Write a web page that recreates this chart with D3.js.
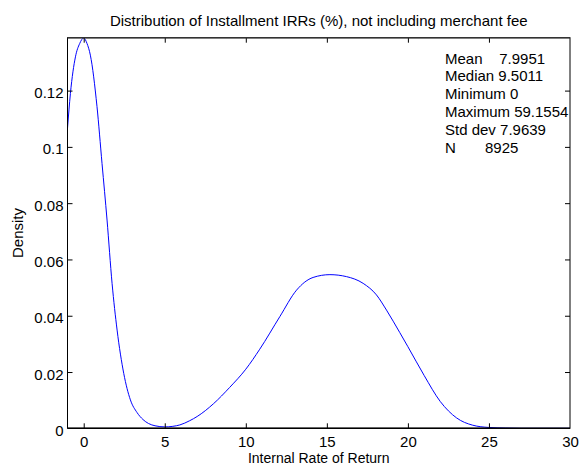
<!DOCTYPE html>
<html>
<head>
<meta charset="utf-8">
<script src="https://cdn.jsdelivr.net/npm/d3@7"></script>
<style>
  html, body { margin: 0; padding: 0; background: #fff; }
  svg { display: block; font-family: "Liberation Sans", Arial, Helvetica, sans-serif; }
  text { white-space: pre; }
</style>
</head>
<body>
<svg id="chart" width="579" height="466"></svg>
<script>
// ---- data ----
const irrValues = [-1, -0.82, -0.51, -0.25, 0, 0.2, 0.41, 0.82, 1.13, 1.44, 1.75, 2.06, 2.47, 2.88, 3.29, 3.66, 4.0, 4.4, 5, 5.5, 5.93, 6.54, 7, 8, 9, 10, 10.86, 12.1, 13.13, 14.15, 15.19, 16.21, 17.24, 18.06, 18.68, 19.5, 20, 21, 22, 23, 24, 25, 26, 27, 28, 29, 30];
const densityValues = [0.1066, 0.119, 0.132, 0.1367, 0.1387, 0.1368, 0.1326, 0.1143, 0.0941, 0.074, 0.0515, 0.0349, 0.0195, 0.0101, 0.0056, 0.0031, 0.0017, 0.0009, 0.0005, 0.0007, 0.0012, 0.0027, 0.0042, 0.0087, 0.0145, 0.021, 0.0281, 0.0397, 0.0491, 0.0536, 0.0546, 0.0539, 0.0515, 0.0474, 0.042, 0.034, 0.029, 0.0188, 0.0095, 0.0037, 0.0011, 0.0003, 0.0001, 0, 0, 0, 0];
const xTicks = [0, 5, 10, 15, 20, 25, 30];
const yTicks = [0, 0.02, 0.04, 0.06, 0.08, 0.1, 0.12];
const yTickLabels = ["0", "0.02", "0.04", "0.06", "0.08", "0.1", "0.12"];
const statLines = ["Mean    7.9951", "Median 9.5011", "Minimum 0", "Maximum 59.1554", "Std dev 7.9639", "N       8925"];
const titleText = "Distribution of Installment IRRs (%), not including merchant fee";
const xLabel = "Internal Rate of Return";
const yLabel = "Density";

// ---- layout ----
const svg = d3.select("#chart");
const L = 67.5, R = 570, T = 37.7, B = 428.3;
const fs = 15;

const x = d3.scaleLinear().domain([-1, 30]).range([L, R]);
const y = d3.scaleLinear().domain([0, 0.1388]).range([B, T]);

const data = irrValues.map((v, i) => ({ v, d: densityValues[i] }));

// clip
svg.append("clipPath").attr("id", "clip")
  .append("rect").attr("x", L).attr("y", T - 1).attr("width", R - L).attr("height", B - T + 1);

// curve
const line = d3.line().x(p => x(p.v)).y(p => y(p.d)).curve(d3.curveMonotoneX);
svg.append("path").datum(data)
  .attr("clip-path", "url(#clip)")
  .attr("d", line)
  .attr("fill", "none")
  .attr("stroke", "#0000ff")
  .attr("stroke-width", 1);

// axes (ticks inward, all four sides)
const tl = 5;
const gB = svg.append("g").attr("transform", `translate(0,${B})`)
  .call(d3.axisBottom(x).tickValues(xTicks).tickSize(-tl).tickPadding(12).tickFormat(d3.format("d")));
const gT = svg.append("g").attr("transform", `translate(0,${T})`)
  .call(d3.axisTop(x).tickValues(xTicks).tickSize(-tl).tickFormat(""));
const gL = svg.append("g").attr("transform", `translate(${L},0)`)
  .call(d3.axisLeft(y).tickValues(yTicks).tickSize(-tl).tickPadding(9).tickFormat((d, i) => yTickLabels[i]));
const gR = svg.append("g").attr("transform", `translate(${R},0)`)
  .call(d3.axisRight(y).tickValues(yTicks).tickSize(-tl).tickFormat(""));

[gB, gT, gL, gR].forEach(g => {
  g.select(".domain").remove();
  g.selectAll(".tick line").attr("stroke", "#000").attr("stroke-width", 1);
  g.selectAll("text").attr("font-size", fs).attr("font-family", "Liberation Sans, Arial, sans-serif").attr("fill", "#000");
});
gB.selectAll(".tick text").attr("dy", null).attr("y", 447 - B).attr("dominant-baseline", "auto");
gL.selectAll(".tick text").attr("dy", null).attr("y", 7).attr("x", -4);
// hide tick marks that coincide with the frame
gL.selectAll(".tick").filter(d => d === 0).select("line").remove();
gR.selectAll(".tick").filter(d => d === 0).select("line").remove();
gB.selectAll(".tick").filter(d => d === 30).select("line").remove();
gT.selectAll(".tick").filter(d => d === 30).select("line").remove();

// frame
svg.append("rect").attr("x", L).attr("y", T).attr("width", R - L).attr("height", B - T)
  .attr("fill", "none").attr("stroke", "#000").attr("stroke-width", 1);
svg.append("line").attr("x1", L).attr("x2", R).attr("y1", B).attr("y2", B).attr("stroke", "#000").attr("stroke-width", 1.5);
svg.append("line").attr("x1", L).attr("x2", R).attr("y1", T).attr("y2", T).attr("stroke", "#333").attr("stroke-width", 1.5);

// title & labels
svg.append("text").attr("x", (L + R) / 2).attr("y", 26).attr("text-anchor", "middle")
  .attr("font-size", fs).text(titleText);
svg.append("text").attr("x", (L + R) / 2).attr("y", 463).attr("text-anchor", "middle")
  .attr("font-size", 14).text(xLabel);
svg.append("text").attr("transform", `translate(23,${(T + B) / 2}) rotate(-90)`).attr("text-anchor", "middle")
  .attr("font-size", fs).text(yLabel);

// statistics box text
svg.append("g").selectAll("text").data(statLines).join("text")
  .attr("x", 445).attr("y", (d, i) => 63.5 + i * 17.9)
  .attr("font-size", fs).text(d => d);
</script>
</body>
</html>
